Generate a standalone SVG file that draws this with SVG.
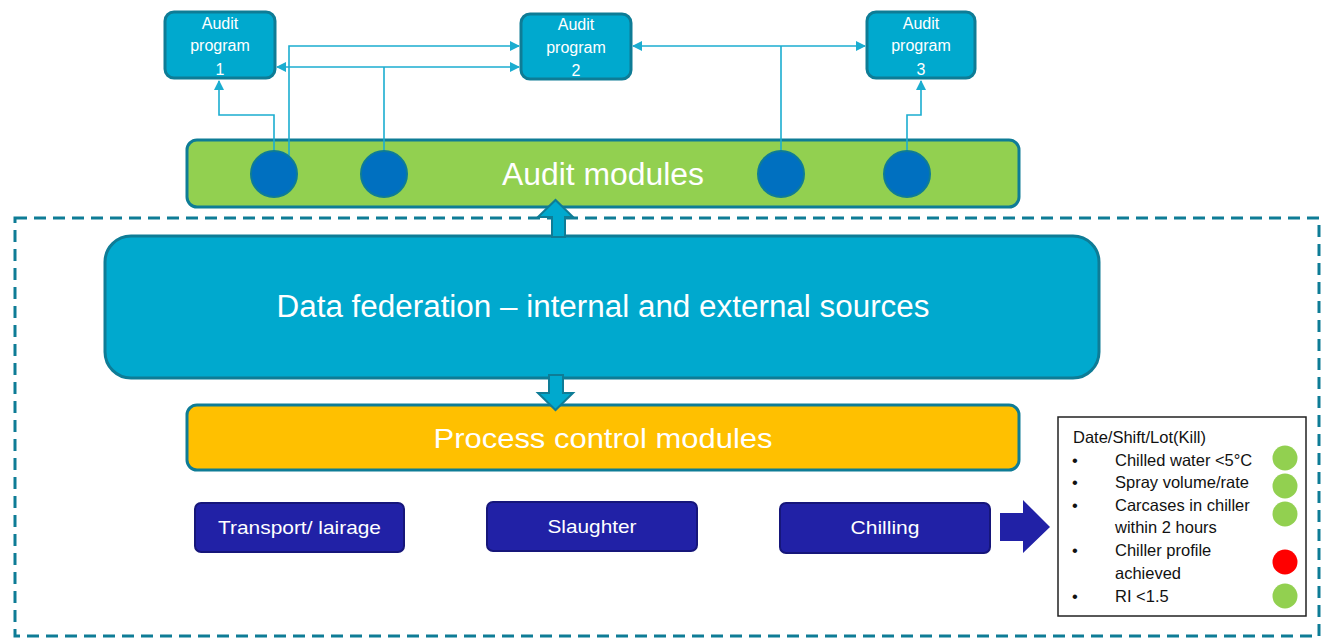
<svg xmlns="http://www.w3.org/2000/svg" width="1327" height="638" viewBox="0 0 1327 638">
<defs>
<style>
.prog{fill:#00A9CE;stroke:#0E7C96;stroke-width:3}
.ptxt{font-family:"Liberation Sans",Arial,sans-serif;font-size:16px;fill:#fff;text-anchor:middle}
.big{font-family:"Liberation Sans",Arial,sans-serif;fill:#fff;text-anchor:middle}
.dot{fill:#0070C0;stroke:#0E7C96;stroke-width:2}
.conn{fill:none;stroke:#1BADD0;stroke-width:1.6}
.step{fill:#2121A6;stroke:#16167A;stroke-width:2}
.stxt{font-family:"Liberation Sans",Arial,sans-serif;font-size:19px;fill:#fff;text-anchor:middle}
.ltxt{font-family:"Liberation Sans",Arial,sans-serif;font-size:16.5px;fill:#111}
.blk{fill:#00A9CE;stroke:#0E7C96;stroke-width:2}
</style>
<marker id="ah2" viewBox="0 0 10 10" refX="9" refY="5" markerWidth="10" markerHeight="10" orient="auto-start-reverse" markerUnits="userSpaceOnUse">
<path d="M0,0 L10,5 L0,10 z" fill="#1BADD0"/>
</marker>
</defs>
<rect x="0" y="0" width="1327" height="638" fill="#fff"/>

<rect id="boundary" x="15" y="218" width="1304" height="418" fill="none" stroke="#0E7C96" stroke-width="3" stroke-dasharray="12,7"/>

<g id="audit-program-1">
<rect class="prog" x="165" y="12" width="110" height="66" rx="9"/>
<text class="ptxt" x="220" y="29">Audit</text>
<text class="ptxt" x="220" y="51">program</text>
<text class="ptxt" x="220" y="75">1</text>
</g>
<g id="audit-program-2">
<rect class="prog" x="521" y="14" width="110" height="65" rx="9"/>
<text class="ptxt" x="576" y="30">Audit</text>
<text class="ptxt" x="576" y="53">program</text>
<text class="ptxt" x="576" y="76">2</text>
</g>
<g id="audit-program-3">
<rect class="prog" x="867" y="12" width="108" height="66" rx="9"/>
<text class="ptxt" x="921" y="29">Audit</text>
<text class="ptxt" x="921" y="51">program</text>
<text class="ptxt" x="921" y="75">3</text>
</g>

<g id="audit-modules">
<rect x="187" y="140" width="832" height="67" rx="10" fill="#92D050" stroke="#0E7C96" stroke-width="3"/>
<text class="big" x="603" y="185" font-size="31" textLength="202" lengthAdjust="spacingAndGlyphs">Audit modules</text>
</g>

<g id="data-federation">
<rect x="105" y="236" width="994" height="142" rx="26" fill="#00A9CE" stroke="#0E7C96" stroke-width="3"/>
<text class="big" x="603" y="317" font-size="31" textLength="653" lengthAdjust="spacingAndGlyphs">Data federation – internal and external sources</text>
</g>

<g id="process-control">
<rect x="187" y="405" width="832" height="65" rx="10" fill="#FFC000" stroke="#0E7C96" stroke-width="3"/>
<text class="big" x="603" y="448" font-size="28" textLength="339" lengthAdjust="spacingAndGlyphs">Process control modules</text>
</g>

<g id="transport">
<rect class="step" x="195" y="503" width="209" height="49" rx="6"/>
<text class="stxt" x="299.5" y="534" textLength="163" lengthAdjust="spacingAndGlyphs">Transport/ lairage</text>
</g>
<g id="slaughter">
<rect class="step" x="487" y="502" width="210" height="49" rx="6"/>
<text class="stxt" x="592" y="533" textLength="89" lengthAdjust="spacingAndGlyphs">Slaughter</text>
</g>
<g id="chilling">
<rect class="step" x="780" y="503" width="210" height="50" rx="6"/>
<text class="stxt" x="885" y="534" textLength="69" lengthAdjust="spacingAndGlyphs">Chilling</text>
</g>

<g id="legend">
<rect x="1058" y="417" width="248" height="199" fill="#fff" stroke="#222" stroke-width="1.5"/>
<text class="ltxt" x="1073" y="443">Date/Shift/Lot(Kill)</text>
<text class="ltxt" x="1072" y="466">•</text>
<text class="ltxt" x="1115" y="466">Chilled water &lt;5°C</text>
<text class="ltxt" x="1072" y="488">•</text>
<text class="ltxt" x="1115" y="488">Spray volume/rate</text>
<text class="ltxt" x="1072" y="511">•</text>
<text class="ltxt" x="1115" y="511">Carcases in chiller</text>
<text class="ltxt" x="1115" y="533">within 2 hours</text>
<text class="ltxt" x="1072" y="556">•</text>
<text class="ltxt" x="1115" y="556">Chiller profile</text>
<text class="ltxt" x="1115" y="579">achieved</text>
<text class="ltxt" x="1072" y="602">•</text>
<text class="ltxt" x="1115" y="602">RI &lt;1.5</text>
<circle cx="1285" cy="458" r="12.5" fill="#92D050"/>
<circle cx="1285" cy="486" r="12.5" fill="#92D050"/>
<circle cx="1285" cy="514" r="12.5" fill="#92D050"/>
<circle cx="1285" cy="562" r="12.5" fill="#FF0000"/>
<circle cx="1285" cy="596" r="12.5" fill="#92D050"/>
</g>

<g id="connectors">
<path class="conn" d="M274,151 V115 H219 V81" marker-end="url(#ah2)"/>
<path class="conn" d="M289,157 V46 H519" marker-end="url(#ah2)"/>
<path class="conn" d="M277,67 H519" marker-start="url(#ah2)" marker-end="url(#ah2)"/>
<path class="conn" d="M384,151 V67"/>
<path class="conn" d="M633,46 H865" marker-start="url(#ah2)" marker-end="url(#ah2)"/>
<path class="conn" d="M781,151 V46"/>
<path class="conn" d="M907,151 V115 H921 V81" marker-end="url(#ah2)"/>
<path id="arrow-up" class="blk" d="M552,237 V217 H538 L555.5,200 L573,217 H565 V237 Z"/>
<path id="arrow-down" class="blk" d="M549,375 V393 H538 L555.5,410 L573,393 H563 V375 Z"/>
<path id="arrow-out" d="M1000,513 H1023 V500 L1050,527 L1023,553 V541 H1000 Z" fill="#2121A6"/>
</g>

<g id="audit-module-points">
<circle class="dot" cx="274" cy="174" r="23"/>
<circle class="dot" cx="384" cy="174" r="23"/>
<circle class="dot" cx="781" cy="174" r="23"/>
<circle class="dot" cx="907" cy="174" r="23"/>
</g>
</svg>
